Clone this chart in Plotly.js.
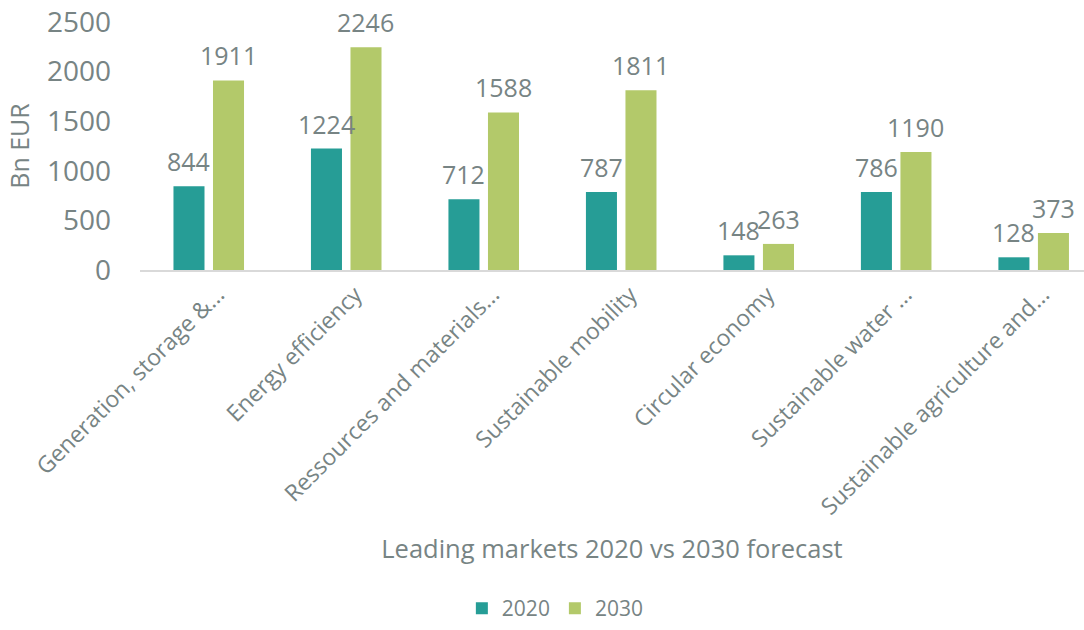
<!DOCTYPE html>
<html>
<head>
<meta charset="utf-8">
<script src="https://cdn.plot.ly/plotly-3.0.1.min.js"></script>
<style>html,body{margin:0;padding:0;background:#fff;}#chart{width:1084px;height:630px;}</style>
</head>
<body>
<div id="chart"></div>
<script>
const categories = [
  "Generation, storage &...",
  "Energy efficiency",
  "Ressources and materials...",
  "Sustainable mobility",
  "Circular economy",
  "Sustainable water ...",
  "Sustainable agriculture and..."
];
const values2020 = [844, 1224, 712, 787, 148, 786, 128];
const values2030 = [1911, 2246, 1588, 1811, 263, 1190, 373];
const seriesNames = ["2020", "2030"];
const yTicks = [0, 500, 1000, 1500, 2000, 2500];

const gray = "#778484";
const font = "Open Sans, sans-serif";
const colors = ["#269d96", "#b3c96a"];

const traces = [values2020, values2030].map((vals, i) => ({
  type: "bar",
  name: seriesNames[i],
  x: categories,
  y: vals,
  marker: {color: colors[i]},
  hoverinfo: "x+y+name"
}));

const shift = 19.75;
const annotations = [];
[values2020, values2030].forEach((vals, i) => {
  vals.forEach((v, j) => {
    annotations.push({
      x: categories[j], y: v, xref: "x", yref: "y",
      text: String(v), showarrow: false,
      xshift: i === 0 ? -shift : shift,
      yanchor: "bottom", yshift: 6,
      font: {family: font, size: 25, color: gray}
    });
  });
});

const layout = {
  width: 1084, height: 630,
  margin: {l: 140, r: 0, t: 22, b: 360},
  paper_bgcolor: "#fff", plot_bgcolor: "#fff",
  barmode: "group", bargap: 0.425, bargroupgap: 0.215,
  showlegend: true,
  legend: {orientation: "h", x: 0.44, xanchor: "center", y: -1.448, yanchor: "bottom",
           font: {family: font, size: 21, color: gray}, traceorder: "normal"},
  xaxis: {
    type: "category",
    range: [-0.5, 6.366],
    tickangle: -45,
    tickfont: {family: font, size: 23, color: gray},
    ticklabelshift: 9,
    showgrid: false, zeroline: false,
    showline: true, linecolor: "#d9d9d9", linewidth: 2,
    ticks: "",
    automargin: false,
    title: {text: "Leading markets 2020 vs 2030 forecast", font: {family: font, size: 25.5, color: gray}, standoff: 20}
  },
  yaxis: {
    range: [0, 2500],
    tickvals: yTicks,
    tickfont: {family: font, size: 28, color: gray},
    showgrid: false, zeroline: false, showline: false,
    ticklabelstandoff: 28,
    automargin: false,
    title: {text: "Bn EUR", font: {family: font, size: 25, color: gray}, standoff: 10}
  },
  annotations: annotations
};

Plotly.newPlot("chart", traces, layout, {displayModeBar: false, staticPlot: true});
</script>
</body>
</html>
